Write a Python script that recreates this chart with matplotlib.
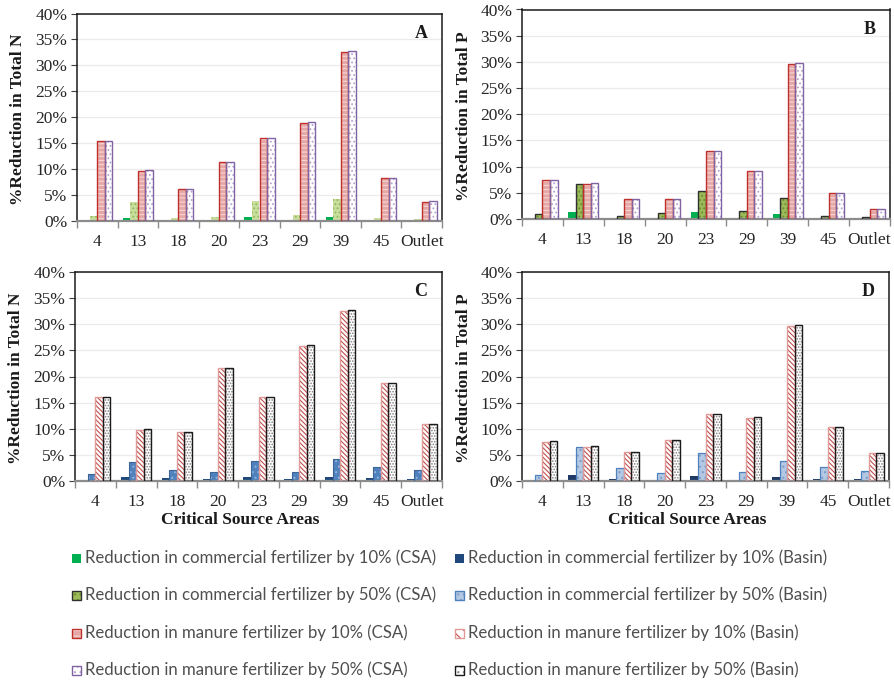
import matplotlib
matplotlib.use("Agg")
import matplotlib.pyplot as plt
from matplotlib.patches import Rectangle
from matplotlib.ticker import FuncFormatter, FixedLocator
import numpy as np

plt.rcParams['hatch.linewidth'] = 0.8
plt.rcParams['font.family'] = ['Liberation Serif', 'DejaVu Serif']

sites = ["4", "13", "18", "20", "23", "29", "39", "45", "Outlet"]
y_ticks = [0, 5, 10, 15, 20, 25, 30, 35, 40]

# % reduction in total N / total P, fertilizer cut applied in the CSA only
csa_n_comm10 = [0.25, 0.65, 0.05, 0.05, 0.85, 0.25, 0.85, 0.2, 0.05]
csa_n_comm50 = [1.05, 3.6, 0.65, 0.85, 3.8, 1.25, 4.2, 0.65, 0.45]
csa_n_man10 = [15.5, 9.6, 6.1, 11.4, 16.0, 18.8, 32.5, 8.3, 3.6]
csa_n_man50 = [15.5, 9.8, 6.1, 11.4, 16.0, 19.0, 32.7, 8.3, 3.8]

csa_p_comm10 = [0.25, 1.35, 0.25, 0.25, 1.35, 0.25, 1.0, 0.25, 0.25]
csa_p_comm50 = [1.0, 6.6, 0.65, 1.1, 5.4, 1.5, 3.95, 0.65, 0.45]
csa_p_man10 = [7.4, 6.6, 3.75, 3.75, 12.9, 9.2, 29.6, 5.0, 1.9]
csa_p_man50 = [7.4, 6.8, 3.75, 3.75, 12.9, 9.2, 29.8, 5.0, 1.9]

# % reduction, fertilizer cut applied across the whole basin
basin_n_comm10 = [0.2, 0.8, 0.5, 0.45, 0.8, 0.45, 0.8, 0.6, 0.45]
basin_n_comm50 = [1.3, 3.6, 2.1, 1.7, 3.8, 1.7, 4.2, 2.6, 2.1]
basin_n_man10 = [16.0, 9.7, 9.3, 21.7, 16.0, 25.8, 32.5, 18.7, 11.0]
basin_n_man50 = [16.0, 9.9, 9.3, 21.7, 16.0, 26.0, 32.7, 18.7, 11.0]

basin_p_comm10 = [0.2, 1.2, 0.4, 0.2, 1.0, 0.2, 0.8, 0.4, 0.4]
basin_p_comm50 = [1.2, 6.5, 2.4, 1.6, 5.3, 1.8, 3.85, 2.6, 2.0]
basin_p_man10 = [7.4, 6.5, 5.5, 7.9, 12.9, 12.1, 29.6, 10.4, 5.3]
basin_p_man50 = [7.6, 6.7, 5.5, 7.9, 12.9, 12.3, 29.8, 10.4, 5.3]

legend_labels = [
    "Reduction in commercial fertilizer by 10% (CSA)",
    "Reduction in commercial fertilizer by 50% (CSA)",
    "Reduction in manure fertilizer by 10% (CSA)",
    "Reduction in manure fertilizer by 50% (CSA)",
    "Reduction in commercial fertilizer by 10% (Basin)",
    "Reduction in commercial fertilizer by 50% (Basin)",
    "Reduction in manure fertilizer by 10% (Basin)",
    "Reduction in manure fertilizer by 50% (Basin)",
]

SERIF = "Liberation Serif"
W, H = 894, 683


def style(face, hatch=None, hcolor=None, edge=None, lw=0.9):
    return dict(face=face, hatch=hatch, hcolor=hcolor, edge=edge, lw=lw)


st_csa_c10 = style("#00B050")
st_csa_c50_a = style("#C7DE9E", "....", "#94B857")
st_csa_c50_b = style("#9BBB59", "....", "#6B8A36", "#303030", 1.0)
st_man10_csa = style("#E6A8A6", "----", "#F6D6D5", "#C0302B", 1.0)
st_man50_csa = style("#FFFFFF", "....", "#B6A3D6", "#8064A2", 1.0)
st_bas_c10_c = style("#1F497D")
st_bas_c50_c = style("#4F81BD", "...", "#8FB0D8", "#3B6497", 0.8)
st_bas_c10_d = style("#1F3A66")
st_bas_c50_d = style("#B3C8E3", "...", "#7F9ECB", "#4F81BD", 0.9)
st_man10_bas = style("#FFFFFF", "\\\\\\\\\\\\\\", "#C0504D", "#E09A98", 1.0)
st_man50_bas = style("#FFFFFF", "......", "#7F7F7F", "#1A1A1A", 1.0)


def px_rect(left, right, top, bottom):
    return [left / W, 1 - bottom / H, (right - left) / W, (bottom - top) / H]


def draw_panel(ax, series, styles, letter, ylabel, label_x, fig):
    x = np.arange(len(sites))
    w = 0.185
    for i, (vals, st) in enumerate(zip(series, styles)):
        pos = x + (i - 1.5) * w
        if st["hatch"]:
            ax.bar(pos, vals, w, color=st["face"], edgecolor=st["hcolor"],
                   hatch=st["hatch"], linewidth=0, zorder=2)
        else:
            ax.bar(pos, vals, w, color=st["face"], linewidth=0, zorder=2)
        if st["edge"]:
            ax.bar(pos, vals, w, fill=False, edgecolor=st["edge"],
                   linewidth=st["lw"], zorder=3)
    ax.set_xlim(-0.5, len(sites) - 0.5)
    ax.set_ylim(0, 40)
    ax.yaxis.set_major_locator(FixedLocator(y_ticks))
    ax.yaxis.set_major_formatter(FuncFormatter(lambda v, p: f"{v:.0f}%"))
    ax.grid(axis="y", color="#EBEBEB", linewidth=0.9, zorder=0)
    ax.set_axisbelow(True)
    ax.set_xticks(x)
    ax.set_xticklabels(sites)
    ax.set_xticks(np.arange(len(sites) + 1) - 0.5, minor=True)
    ax.tick_params(axis="x", which="major", length=0, pad=9,
                   labelsize=12.5, labelcolor="#262626")
    ax.tick_params(axis="x", which="minor", length=5, color="#8C8C8C", width=1.0)
    ax.tick_params(axis="y", length=4, color="#404040", labelsize=12.5,
                   labelcolor="#262626", pad=3)
    for side in ("top", "right", "left"):
        ax.spines[side].set_color("#1A1A1A")
        ax.spines[side].set_linewidth(1.1)
    ax.spines["bottom"].set_color("#8C8C8C")
    ax.spines["bottom"].set_linewidth(1.6)
    ax.text(0.96, 0.945, letter, transform=ax.transAxes, ha="right", va="top",
            fontsize=13, fontweight="bold", fontfamily=SERIF, color="#1A1A1A")
    bb = ax.get_position()
    fig.text(label_x / W, bb.y0 + bb.height * 0.49, ylabel, rotation=90,
             ha="center", va="center", fontsize=12.5, fontweight="bold",
             fontfamily=SERIF, color="#1A1A1A")


fig = plt.figure(figsize=(W / 100, H / 100), dpi=100)

ax_a = fig.add_axes(px_rect(77, 442, 13.5, 221))
ax_b = fig.add_axes(px_rect(522, 890, 9.5, 219))
ax_c = fig.add_axes(px_rect(75, 442, 272, 481))
ax_d = fig.add_axes(px_rect(522, 889, 272, 481))

draw_panel(ax_a, [csa_n_comm10, csa_n_comm50, csa_n_man10, csa_n_man50],
           [st_csa_c10, st_csa_c50_a, st_man10_csa, st_man50_csa],
           "A", "%Reduction in Total N", 18, fig)
draw_panel(ax_b, [csa_p_comm10, csa_p_comm50, csa_p_man10, csa_p_man50],
           [st_csa_c10, st_csa_c50_b, st_man10_csa, st_man50_csa],
           "B", "%Reduction in Total P", 464, fig)
draw_panel(ax_c, [basin_n_comm10, basin_n_comm50, basin_n_man10, basin_n_man50],
           [st_bas_c10_c, st_bas_c50_c, st_man10_bas, st_man50_bas],
           "C", "%Reduction in Total N", 16, fig)
draw_panel(ax_d, [basin_p_comm10, basin_p_comm50, basin_p_man10, basin_p_man50],
           [st_bas_c10_d, st_bas_c50_d, st_man10_bas, st_man50_bas],
           "D", "%Reduction in Total P", 464, fig)

for cx in (240, 687):
    fig.text(cx / W, 1 - 520 / H, "Critical Source Areas", ha="center",
             va="center", fontsize=12.5, fontweight="bold", fontfamily=SERIF,
             color="#1A1A1A")

# legend: two columns of four entries
legend_styles = [st_csa_c10, st_csa_c50_b, st_man10_csa, st_man50_csa,
                 st_bas_c10_c, st_bas_c50_d, st_man10_bas, st_man50_bas]
row_y = [558, 595, 633, 670]
col_x = [72, 455]
for k, (lab, st) in enumerate(zip(legend_labels, legend_styles)):
    cx = col_x[k // 4]
    cy = row_y[k % 4]
    size = 9
    rx, ry = cx / W, 1 - (cy + size / 2) / H
    rw, rh = size / W, size / H
    if st["hatch"]:
        fig.patches.append(Rectangle((rx, ry), rw, rh, transform=fig.transFigure,
                                     facecolor=st["face"], edgecolor=st["hcolor"],
                                     hatch=st["hatch"][:3], linewidth=0))
    else:
        fig.patches.append(Rectangle((rx, ry), rw, rh, transform=fig.transFigure,
                                     facecolor=st["face"], linewidth=0))
    if st["edge"]:
        fig.patches.append(Rectangle((rx, ry), rw, rh, transform=fig.transFigure,
                                     fill=False, edgecolor=st["edge"], linewidth=1.0))
    fig.text((cx + 13) / W, 1 - cy / H, lab, ha="left", va="center",
             fontsize=12.1, fontfamily="Lato", color="#4F4F4F")

fig.savefig("out.png", dpi=100)
